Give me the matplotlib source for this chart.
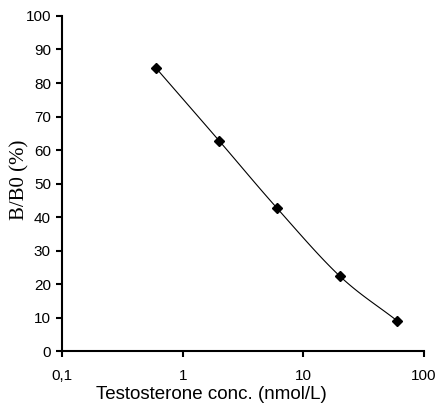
import matplotlib
matplotlib.use("Agg")
import matplotlib.pyplot as plt
import numpy as np

# -- DADOS --
conc = [0.6, 2, 6, 20, 60]
bb0 = [84.5, 62.8, 42.8, 22.4, 9.0]
xticks = [0.1, 1, 10, 100]
xticklabels = ["0,1", "1", "10", "100"]
yticks = list(range(0, 101, 10))

# curva suavizada (Catmull-Rom no espaço log x, como a linha suave do Excel)
def smooth(xs, ys, n=30):
    lx = np.log10(xs)
    pts = np.column_stack([lx, ys])
    p = np.vstack([2 * pts[0] - pts[1], pts, 2 * pts[-1] - pts[-2]])
    out = []
    t = np.linspace(0, 1, n)[:, None]
    for i in range(1, len(p) - 2):
        p0, p1, p2, p3 = p[i - 1], p[i], p[i + 1], p[i + 2]
        seg = 0.5 * ((2 * p1) + (-p0 + p2) * t + (2 * p0 - 5 * p1 + 4 * p2 - p3) * t**2
                     + (-p0 + 3 * p1 - 3 * p2 + p3) * t**3)
        out.append(seg)
    out = np.vstack(out)
    return 10 ** out[:, 0], out[:, 1]

sx, sy = smooth(conc, bb0)

# -- VISUALIZAÇÃO --
fig = plt.figure(figsize=(4.38, 4.05), dpi=100)
ax = fig.add_axes([0.1416, 0.1333, 0.8264, 0.8272])

ax.plot(sx, sy, color="black", lw=0.8)
ax.plot(conc, bb0, linestyle="none", marker="D", ms=5.5, color="black")

ax.set_xscale("log")
ax.set_xlim(0.1, 100)
ax.set_ylim(0, 100)
ax.set_xticks(xticks)
ax.set_xticklabels(xticklabels)
ax.xaxis.set_minor_locator(matplotlib.ticker.NullLocator())
ax.set_yticks(yticks)

for s in ["top", "right"]:
    ax.spines[s].set_visible(False)
for s in ["left", "bottom"]:
    ax.spines[s].set_linewidth(1.5)

ax.tick_params(axis="both", direction="out", length=4, width=1.5,
               labelsize=11, pad=4)
for lab in ax.get_xticklabels() + ax.get_yticklabels():
    lab.set_family("Liberation Sans")
ax.tick_params(axis="x", pad=9)

ax.set_xlabel("Testosterone conc. (nmol/L)", fontsize=13.5, family="Liberation Sans")
ax.set_ylabel("B/B0 (%)", fontsize=15, family="Liberation Serif")
ax.xaxis.set_label_coords(0.414, -0.105)
ax.yaxis.set_label_coords(-0.09, 0.51)

plt.savefig("out.png", dpi=100)
